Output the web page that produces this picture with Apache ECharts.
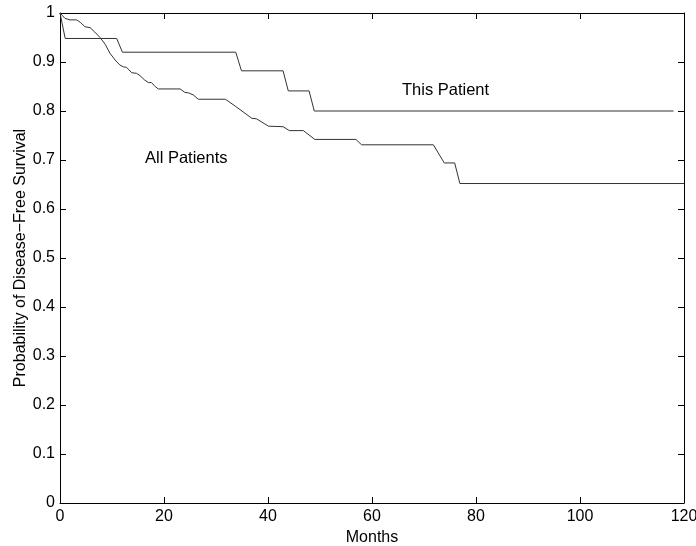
<!DOCTYPE html>
<html>
<head>
<meta charset="utf-8">
<script src="https://cdn.jsdelivr.net/npm/echarts@6/dist/echarts.min.js"></script>
<style>
  html, body { margin: 0; padding: 0; background: #fff; }
  #chart { width: 696px; height: 546px; }
</style>
</head>
<body>
<div id="chart"></div>
<script>
// survival curves (months, probability)
const allMonths = [0, 0.96, 1.9, 3.2, 3.9, 4.8, 5.8, 6.7, 7.7, 8.7, 9.6, 10.6, 11.5, 12.2, 12.8, 13.8, 14.7, 15.4, 16.3, 17.0, 17.6, 18.3, 18.9, 23.1, 24.0, 24.7, 25.6, 26.6, 31.8, 33.7, 36.9, 37.8, 40.1, 42.9, 44.1, 46.8, 49.0, 56.9, 58.0, 71.8, 73.9, 75.9, 76.9, 120]
const allSurvival = [1.0, 0.989, 0.986, 0.986, 0.981, 0.972, 0.970, 0.961, 0.950, 0.936, 0.918, 0.904, 0.894, 0.890, 0.889, 0.878, 0.877, 0.872, 0.863, 0.858, 0.858, 0.850, 0.845, 0.845, 0.838, 0.837, 0.833, 0.824, 0.824, 0.810, 0.785, 0.784, 0.769, 0.768, 0.760, 0.760, 0.742, 0.742, 0.731, 0.731, 0.694, 0.694, 0.652, 0.652]

const thisMonths = [0, 1.0, 10.9, 12.0, 33.8, 34.9, 42.9, 43.9, 47.9, 48.9, 118]
const thisSurvival = [1.0, 0.948, 0.948, 0.920, 0.920, 0.882, 0.882, 0.841, 0.841, 0.800, 0.800]

const xTicks = [0, 20, 40, 60, 80, 100, 120]
const yTicks = [0, 0.1, 0.2, 0.3, 0.4, 0.5, 0.6, 0.7, 0.8, 0.9, 1]

const font = 'Liberation Sans, Arial, sans-serif'
const lineColor = '#333'

const chart = echarts.init(document.getElementById('chart'))

const tickStyle = { show: true, inside: true, length: 6, lineStyle: { color: '#000', width: 1 } }
const axisLineStyle = { show: true, onZero: false, lineStyle: { color: '#000', width: 1 } }

chart.setOption({
  animation: false,
  grid: { left: 60, right: 12, top: 13, bottom: 43, outerBoundsMode: 'none' },
  xAxis: [{
    type: 'value',
    min: xTicks[0],
    max: xTicks[xTicks.length - 1],
    interval: 20,
    name: 'Months',
    nameLocation: 'middle',
    nameGap: 27,
    nameTextStyle: { color: '#000', fontSize: 16, fontFamily: font },
    axisLine: axisLineStyle,
    axisTick: tickStyle,
    splitLine: { show: false },
    axisLabel: { color: '#000', fontSize: 16, fontFamily: font, margin: 6 }
  }, {
    type: 'value',
    position: 'top',
    min: xTicks[0],
    max: xTicks[xTicks.length - 1],
    interval: 20,
    axisLine: axisLineStyle,
    axisTick: tickStyle,
    splitLine: { show: false },
    axisLabel: { show: false }
  }],
  yAxis: [{
    type: 'value',
    min: yTicks[0],
    max: yTicks[yTicks.length - 1],
    interval: 0.1,
    name: 'Probability of Disease\u2212Free Survival',
    nameLocation: 'middle',
    nameGap: 31,
    nameMoveOverlap: false,
    nameTextStyle: { color: '#000', fontSize: 16, fontFamily: font },
    axisLine: axisLineStyle,
    axisTick: tickStyle,
    splitLine: { show: false },
    axisLabel: {
      color: '#000', fontSize: 16, fontFamily: font, margin: 5,
      formatter: v => String(+v.toFixed(1))
    }
  }, {
    type: 'value',
    position: 'right',
    min: yTicks[0],
    max: yTicks[yTicks.length - 1],
    interval: 0.1,
    axisLine: axisLineStyle,
    axisTick: tickStyle,
    splitLine: { show: false },
    axisLabel: { show: false }
  }],
  graphic: [
    { type: 'text', left: 402, top: 82, style: { text: 'This Patient', fill: '#000', font: '16.5px ' + font } },
    { type: 'text', left: 145, top: 150, style: { text: 'All Patients', fill: '#000', font: '16.5px ' + font } }
  ],
  series: [{
    name: 'All Patients',
    type: 'line',
    showSymbol: false,
    lineStyle: { color: lineColor, width: 1 },
    data: allMonths.map((m, i) => [m, allSurvival[i]])
  }, {
    name: 'This Patient',
    type: 'line',
    showSymbol: false,
    lineStyle: { color: lineColor, width: 1 },
    data: thisMonths.map((m, i) => [m, thisSurvival[i]])
  }]
})
</script>
</body>
</html>
